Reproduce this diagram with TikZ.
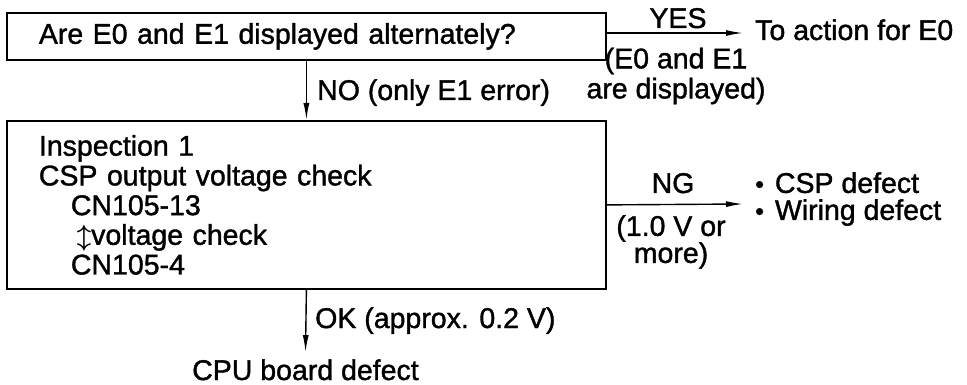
\documentclass[tikz,border=0pt]{standalone}
\usepackage{fontspec}
\setmainfont{Liberation Sans}[FakeBold=1.3]
\usetikzlibrary{arrows.meta}
\begin{document}
\begin{tikzpicture}[x=1pt, y=-1pt,
  box/.style={draw, line width=1.8pt, inner xsep=32pt, inner ysep=0pt,
    text width=535pt, align=left, anchor=north west,
    font=\fontsize{28.5}{29.7}\selectfont},
  flow/.style={line width=1.4pt, -{Latex[length=17pt,width=6pt]}},
  lbl/.style={inner sep=0pt, font=\fontsize{28.5}{30}\selectfont},
  note/.style={lbl, align=center, font=\fontsize{28.5}{27}\selectfont},
]
\useasboundingbox (0,0) rectangle (967,385);

% decision box and the inspection box
\node[box, minimum height=47pt] (q) at (6,12) {Are E0 and E1 displayed alternately?};
\node[box, minimum height=168pt] (insp) at (6,120) {Inspection 1\\
CSP output voltage check\\
\hspace*{32pt}CN105-13\\
\hspace*{38pt}{\boldmath$\updownarrow$}voltage check\\
\hspace*{32pt}CN105-4};

% YES branch
\node[lbl, anchor=base] (yes) at (678,28) {YES};
\node[lbl, anchor=base west] (toE0) at (755,40) {To action for E0};
\node[lbl, align=center, font=\fontsize{28.5}{30}\selectfont] (yesnote) at (676,76) {(E0 and E1\\are displayed)};
\coordinate (yesend) at (743,33);
\draw[flow] (q.east |- yesend) -- (yesend);

% NO branch
\node[lbl, anchor=base west] (no) at (317,100) {NO (only E1 error)};
\draw[flow] (q.south) -- (insp.north);

% NG branch
\node[lbl, anchor=base] (ng) at (673,193) {NG};
\node[note] (ngnote) at (671,242) {(1.0 V or\\more)};
\node[lbl, anchor=west, align=left, font=\fontsize{28.5}{27}\selectfont] (causes) at (755,199)
  {{\fontsize{25}{25}\selectfont\textbullet}\hspace{11pt}CSP defect\\
   {\fontsize{25}{25}\selectfont\textbullet}\hspace{11pt}Wiring defect};
\coordinate (ngend) at (743,204);
\draw[flow] (insp.east) -- (ngend);

% OK branch
\node[lbl, anchor=base west] (ok) at (315,328) {OK (approx. 0.2 V)};
\node[lbl, inner ysep=7pt, anchor=base] (cpu) at (305.5,380) {CPU board defect};
\draw[flow] (insp.south) -- (cpu.north);
\end{tikzpicture}
\end{document}
